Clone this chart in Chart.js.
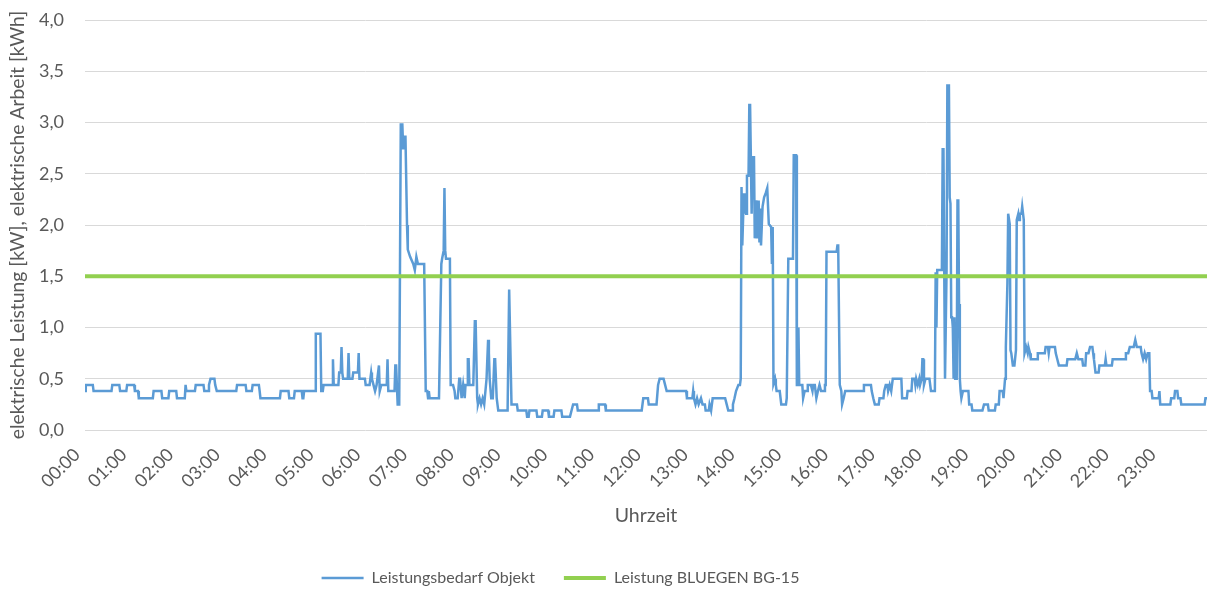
<!DOCTYPE html>
<html>
<head>
<meta charset="utf-8">
<script src="https://cdn.jsdelivr.net/npm/chart.js@4.4.1/dist/chart.umd.min.js"></script>
<style>
  html, body { margin: 0; padding: 0; background: #ffffff; }
  canvas { display: block; }
</style>
</head>
<body>
<canvas id="chart" width="1207" height="593"></canvas>
<script>
// ---- data (minute of day, kW) ----
const hourLabels = ['00:00','01:00','02:00','03:00','04:00','05:00','06:00','07:00','08:00','09:00','10:00','11:00',
                    '12:00','13:00','14:00','15:00','16:00','17:00','18:00','19:00','20:00','21:00','22:00','23:00'];
const yTickLabels = ['0,0','0,5','1,0','1,5','2,0','2,5','3,0','3,5','4,0'];

const demandNight = [
  [0,0.38],[1,0.44],[10,0.44],[11,0.38],[34,0.38],[35,0.44],[44,0.44],[45,0.38],[53,0.38],[54,0.44],[63,0.44],[64,0.38],
  [68,0.38],[69,0.31],[87,0.31],[88,0.38],[98,0.38],[99,0.31],[107,0.31],[108,0.38],[117,0.38],[118,0.31],[128,0.31],
  [129,0.44],[130,0.38],[141,0.38],[142,0.44],[152,0.44],[153,0.38],[158,0.38],[159,0.44],[161,0.5],[166,0.5],[167,0.44],
  [169,0.38],[194,0.38],[195,0.44],[206,0.44],[207,0.38],[214,0.38],[215,0.44],[223,0.44],[224,0.38],[225,0.31],[250,0.31],
  [251,0.38],[261,0.38],[262,0.31],[268,0.31],[269,0.38],[278,0.38],[279,0.31],[280,0.31],[281,0.38],[295,0.38]
];
const demandMorning = [
  [296,0.94],[302,0.94],[303,0.38],[305,0.38],[306,0.44],[317,0.44],[318,0.69],[319,0.44],[325,0.44],[326,0.56],[328,0.56],
  [329,0.81],[330,0.56],[331,0.5],[337,0.5],[338,0.75],[339,0.5],[343,0.5],[344,0.56],[350,0.56],[351,0.75],[352,0.5],
  [359,0.5],[360,0.44],[365,0.44],[367,0.56],[368,0.5],[370,0.44],[372,0.38],[374,0.44],[377,0.63],[378,0.38],[380,0.44],
  [387,0.44],[388,0.69],[389,0.38],[397,0.38],[398,0.63],[399,0.63],[401,0.25],[403,0.25],
  [405,2.98],[407,2.98],[408,2.75],[409,2.86],[411,2.86],[413,2.0],[414,1.76],[417,1.69],[421,1.62],[423,1.56],[425,1.69],
  [427,1.62],[435,1.62],[437,0.38],[439,0.38],[440,0.31],[441,0.38],[442,0.31],[454,0.31],[457,1.62],[458,1.67],[460,1.75],
  [461,2.36],[462,1.75],[463,1.67],[468,1.67],[469,0.44],[472,0.44],[474,0.38],[475,0.31],[478,0.31],[480,0.5],[481,0.5],
  [483,0.31],[485,0.44],[487,0.31],[488,0.44],[490,0.44],[491,0.69],[492,0.69],[493,0.44],[498,0.44],[500,1.06],[501,1.06],
  [503,0.31],[504,0.25],[506,0.31],[508,0.25],[510,0.31],[512,0.25],[515,0.5],[517,0.88],[518,0.75],[519,0.5],[521,0.31],
  [523,0.31],[525,0.69],[526,0.69],[528,0.31],[530,0.19],[542,0.19],[544,1.37],[545,1.37],[547,0.25],[554,0.25],[555,0.19]
];
const demandMidday = [
  [566,0.19],[567,0.13],[569,0.13],[570,0.19],[579,0.19],[580,0.13],[586,0.13],[587,0.19],[594,0.19],[595,0.13],[601,0.13],
  [602,0.19],[611,0.19],[612,0.13],[622,0.13],[624,0.19],[626,0.25],[631,0.25],[632,0.19],[658,0.19],[659,0.25],[667,0.25],
  [668,0.19],[714,0.19],[716,0.31],[722,0.31],[723,0.25],[733,0.25],[735,0.44],[737,0.5],[742,0.5],[744,0.44],[746,0.38],
  [771,0.38],[772,0.31],[779,0.31],[780,0.38],[781,0.31],[783,0.25],[785,0.31],[787,0.25],[790,0.31],[792,0.25],[795,0.25],
  [796,0.19],[800,0.19],[801,0.25],[803,0.19],[805,0.31],[821,0.31],[823,0.25],[825,0.19],[830,0.19],[831,0.25],[833,0.31],
  [835,0.38],[838,0.44],[840,0.44]
];
const demandAfternoon = [
  [841,0.5],[842,2.37],[843,1.8],[845,2.31],[846,2.11],[847,2.31],[848,2.11],[849,2.48],[851,2.48],[852,3.17],[853,3.17],
  [855,2.11],[856,2.66],[858,2.66],[859,1.87],[861,2.24],[862,1.87],[864,2.24],[865,1.83],[866,2.16],[867,1.8],[869,2.18],
  [871,2.27],[873,2.31],[875,2.36],[877,2.01],[880,1.98],[881,1.62],[882,1.98],[883,0.45],[885,0.5],[886,0.44],[887,0.38],
  [891,0.38],[893,0.25],[899,0.25],[900,0.31],[902,1.67],[908,1.67],[909,2.68],[912,2.68],[913,0.44],[914,0.44],[915,1.0],
  [916,0.44],[920,0.44],[921,0.31],[923,0.38],[926,0.38],[927,0.44],[931,0.44],[933,0.38],[934,0.44],[936,0.44],[938,0.31],
  [940,0.38],[942,0.44],[944,0.38],[948,0.38],[949,0.44],[950,0.44],[951,1.74],[964,1.74],[965,1.8],[966,1.8],[968,0.44],
  [970,0.38],[971,0.25],[973,0.31],[975,0.38],[998,0.38],[999,0.44],[1008,0.44],[1009,0.38],[1011,0.31],[1013,0.25],
  [1018,0.25],[1019,0.31],[1024,0.31],[1025,0.38],[1027,0.44],[1029,0.44],[1030,0.38],[1032,0.44],[1034,0.38],[1036,0.5],
  [1047,0.5],[1048,0.31],[1054,0.31],[1055,0.38],[1060,0.38],[1061,0.5],[1064,0.5],[1065,0.44],[1066,0.5],[1068,0.44],
  [1070,0.5],[1071,0.44],[1073,0.5],[1074,0.69],[1075,0.69],[1076,0.44],[1078,0.5],[1083,0.5],[1085,0.38],[1090,0.38]
];
const demandEvening = [
  [1091,1.54],[1092,1.0],[1093,1.56],[1098,1.56],[1099,1.58],[1100,2.74],[1101,2.74],[1102,1.56],[1103,0.5],[1104,0.5],
  [1105,1.56],[1106,3.36],[1108,3.36],[1109,2.27],[1110,2.21],[1111,1.1],[1112,1.1],[1113,1.0],[1114,0.5],[1115,1.1],
  [1116,0.5],[1118,0.5],[1119,2.24],[1120,2.24],[1121,1.23],[1122,0.5],[1123,0.38],[1124,0.31],[1126,0.38],[1133,0.38],
  [1134,0.25],[1137,0.25],[1138,0.19],[1151,0.19],[1153,0.25],[1158,0.25],[1159,0.19],[1167,0.19],[1168,0.25],[1172,0.25],
  [1173,0.38],[1177,0.38],[1178,0.31],[1180,0.5],[1181,0.81],[1183,1.43],[1184,2.11],[1185,2.11],[1186,2.01],[1187,0.78],
  [1188,0.75],[1190,0.63],[1192,0.63],[1194,0.78],[1195,2.05],[1197,2.11],[1198,2.05],[1199,2.11],[1201,2.11],[1202,2.18],
  [1203,2.18],[1204,2.05],[1205,0.75],[1207,0.81],[1209,0.75],[1210,0.81],[1212,0.75],[1213,0.69],[1221,0.69],[1222,0.75],
  [1231,0.75],[1232,0.81],[1235,0.81],[1236,0.75],[1237,0.81],[1244,0.81],[1245,0.75],[1247,0.69],[1249,0.63],[1259,0.63],
  [1260,0.69],[1270,0.69],[1272,0.75],[1274,0.69],[1279,0.69],[1280,0.63],[1283,0.63],[1284,0.75],[1287,0.75],[1289,0.81],
  [1292,0.81],[1293,0.75],[1294,0.69],[1296,0.56],[1300,0.56],[1301,0.63],[1308,0.63],[1309,0.69],[1310,0.63],[1317,0.63],
  [1318,0.69],[1334,0.69],[1335,0.75],[1338,0.75],[1340,0.81],[1345,0.81],[1347,0.88],[1349,0.81],[1354,0.81],[1355,0.75],
  [1357,0.69],[1359,0.75],[1361,0.69],[1363,0.75],[1365,0.75],[1366,0.38],[1368,0.38],[1369,0.31],[1377,0.31],[1378,0.38],
  [1379,0.25],[1392,0.25],[1393,0.31],[1397,0.31],[1398,0.38],[1401,0.38],[1402,0.31],[1405,0.31],[1406,0.25],[1436,0.25],
  [1437,0.31],[1439,0.31]
];
const bluegenMinutes = [0, 1439];
const bluegenKW = [1.5, 1.5];

// ---- chart ----
const TEXT = '#595959';
const TICK_FONT = { family: 'Lato', size: 18 };
const TITLE_FONT = { family: 'Lato', size: 19.5 };
const LEGEND_FONT = { family: 'Lato', size: 16 };

const demand = [].concat(demandNight, demandMorning, demandMidday, demandAfternoon, demandEvening)
  .map(p => ({ x: p[0], y: p[1] }));
const bluegen = bluegenMinutes.map((m, i) => ({ x: m, y: bluegenKW[i] }));

// shift the legend block slightly left, as in the original layout
const legendShift = {
  id: 'legendShift',
  afterLayout(chart) {
    const lg = chart.legend;
    if (lg) { lg.left -= 43; lg.right -= 43; }
  }
};

new Chart(document.getElementById('chart'), {
  type: 'line',
  data: {
    datasets: [
      { label: 'Leistungsbedarf Objekt', data: demand, borderColor: '#5B9BD5', backgroundColor: '#5B9BD5',
        borderWidth: 2.5, pointRadius: 0, tension: 0, order: 1 },
      { label: 'Leistung BLUEGEN BG-15', data: bluegen, borderColor: '#92D050', backgroundColor: '#92D050',
        borderWidth: 4, pointRadius: 0, tension: 0, order: 0 }
    ]
  },
  plugins: [legendShift],
  options: {
    responsive: false,
    animation: false,
    devicePixelRatio: 1,
    layout: { padding: { top: 20, right: 0, bottom: -3, left: 0 } },
    plugins: {
      tooltip: { enabled: false },
      legend: {
        position: 'bottom',
        labels: {
          usePointStyle: true, pointStyle: 'line', pointStyleWidth: 42,
          padding: 29, color: TEXT, font: LEGEND_FONT,
          sort: (a, b) => a.datasetIndex - b.datasetIndex
        }
      }
    },
    scales: {
      x: {
        type: 'linear', min: 0, max: 1439,
        grid: { display: false, drawTicks: false },
        border: { display: false },
        afterBuildTicks: s => { s.ticks = hourLabels.map((_, i) => ({ value: i * 60 })); },
        ticks: {
          autoSkip: false, maxRotation: 45, minRotation: 45,
          padding: 14, labelOffset: -8, color: TEXT, font: TICK_FONT,
          callback: v => hourLabels[Math.round(v / 60)]
        },
        title: { display: true, text: 'Uhrzeit', color: TEXT, font: TITLE_FONT, padding: { top: 0, bottom: 14 } },
        afterFit: s => { s.height = 111; s.paddingLeft = 0; s.paddingRight = 0; }
      },
      y: {
        min: 0, max: 4,
        grid: { color: '#D9D9D9', lineWidth: 1, drawTicks: false },
        border: { display: false },
        ticks: {
          stepSize: 0.5, padding: 21, color: TEXT, font: TICK_FONT,
          callback: v => yTickLabels[Math.round(v * 2)]
        },
        title: { display: true, text: 'elektrische Leistung [kW], elektrische Arbeit [kWh]', color: TEXT,
                 font: { family: 'Lato', size: 19.3 }, padding: { top: 6, bottom: 0 } },
        afterFit: s => { s.width = 85; s.paddingTop = 0; s.paddingBottom = 0; }
      }
    }
  }
});
</script>
</body>
</html>
